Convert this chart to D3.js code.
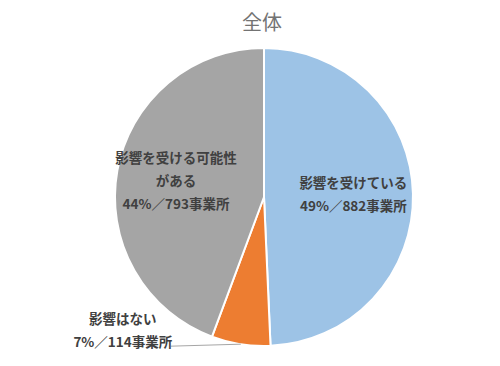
<!DOCTYPE html>
<html>
<head>
<meta charset="utf-8">
<script src="https://cdn.jsdelivr.net/npm/d3@7"></script>
<style>
  body { margin: 0; background: #fff; }
  text { font-family: "Noto Sans CJK JP", "Noto Sans", sans-serif; }
</style>
</head>
<body>
<script>
const title = '全体';
const categories = ['影響を受けている', '影響はない', '影響を受ける可能性がある'];
const labelLines = [['影響を受けている'], ['影響はない'], ['影響を受ける可能性', 'がある']];
const values = [882, 114, 793];
const percents = ['49%', '7%', '44%'];
const colors = ['#9DC3E6', '#ED7D31', '#A5A5A5'];

const width = 500;
const height = 366;
const cx = 264;
const cy = 197;
const radius = 149;

const svg = d3.select('body')
  .append('svg')
  .attr('width', width)
  .attr('height', height);

svg.append('text')
  .attr('x', 262)
  .attr('y', 30)
  .attr('text-anchor', 'middle')
  .attr('fill', '#737373')
  .attr('font-size', 20)
  .text(title);

const data = categories.map((c, i) => ({
  name: c, value: values[i], pct: percents[i], lines: labelLines[i], color: colors[i]
}));

const pie = d3.pie().sort(null).value(d => d.value);
const arcs = pie(data);

const arc = d3.arc().innerRadius(0).outerRadius(radius);
const labelArc = d3.arc().innerRadius(radius * 0.6).outerRadius(radius * 0.6);

const g = svg.append('g')
  .attr('transform', `translate(${cx},${cy})`);

g.selectAll('path')
  .data(arcs)
  .enter()
  .append('path')
  .attr('d', arc)
  .attr('fill', d => d.data.color)
  .attr('stroke', '#fff')
  .attr('stroke-width', 2)
  .attr('stroke-linejoin', 'round');

const lineH = 23;

arcs.forEach(d => {
  const lines = d.data.lines.concat([`${d.data.pct}／${d.data.value}事業所`]);
  let x, y;
  // small slice gets its label outside, with a leader line
  const outside = (d.endAngle - d.startAngle) < 0.6;
  if (outside) {
    const mid = (d.startAngle + d.endAngle) / 2;
    const ex = Math.sin(mid) * radius;
    const ey = -Math.cos(mid) * radius;
    const lx = ex - 70;
    g.append('polyline')
      .attr('points', `${ex},${ey} ${lx},${ey + 2}`)
      .attr('fill', 'none')
      .attr('stroke', '#a6a6a6')
      .attr('stroke-width', 1);
    x = lx - 48;
    y = ey - 13;
  } else {
    [x, y] = labelArc.centroid(d);
  }
  const t = g.append('text')
    .attr('text-anchor', 'middle')
    .attr('font-size', 13.5)
    .attr('font-weight', 'bold')
    .attr('fill', '#404040');
  lines.forEach((ln, j) => {
    t.append('tspan')
      .attr('x', x)
      .attr('y', y + (j - (lines.length - 1) / 2) * lineH)
      .attr('dy', '0.35em')
      .text(ln);
  });
});
</script>
</body>
</html>
